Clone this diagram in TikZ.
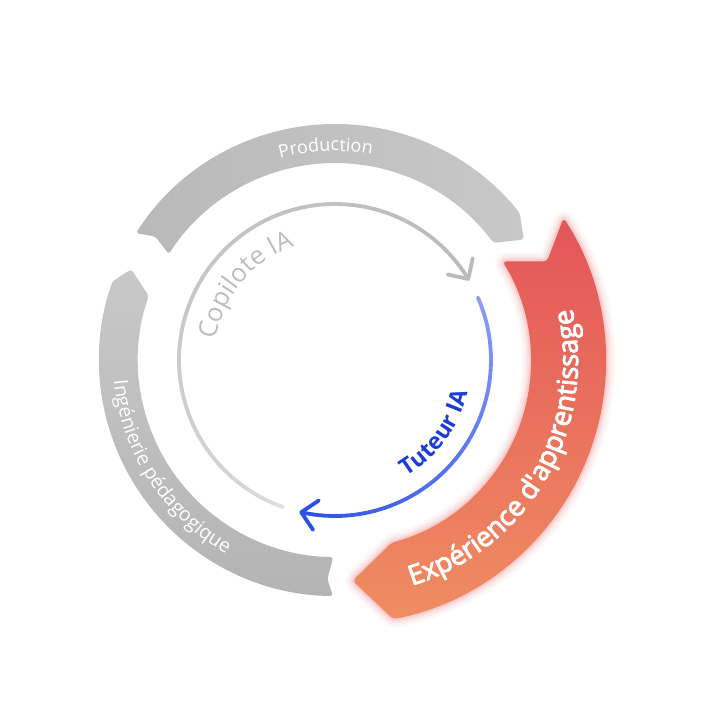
\documentclass[tikz,border=0pt]{standalone}
\usepackage{fontspec}
\setmainfont{Open Sans}
\newfontfamily\osemi[FakeBold=3]{Open Sans}
\usetikzlibrary{decorations.text}
\definecolor{prodA}{HTML}{B9B9B9}
\definecolor{prodB}{HTML}{C8C8C8}
\definecolor{ingA}{HTML}{C8C8C8}
\definecolor{ingB}{HTML}{B4B4B4}
\definecolor{redA}{HTML}{E45559}
\definecolor{redB}{HTML}{EF8D62}
\definecolor{glow}{HTML}{EA6A6A}
\definecolor{copA}{HTML}{E0E0E0}
\definecolor{copB}{HTML}{BBBBBB}
\definecolor{copT}{HTML}{BDBDBD}
\definecolor{tutA}{HTML}{8C9CF8}
\definecolor{tutB}{HTML}{2C50E6}
\definecolor{tutT}{HTML}{1C3CD6}
\newcommand\redshape[1]{\path[#1] (33:263) arc[start angle=33, end angle=-79, radius=263pt] -- (-87.5:220) -- (-75:188) arc[start angle=-75, end angle=32, radius=188pt] -- (26:227) -- cycle;}
\tikzset{
  bandtext/.style={decorate, decoration={text along path, text align=center, text color=#1}},
  ring/.style={line width=3.8pt, line cap=round, line join=round}
}
\begin{document}
\begin{tikzpicture}[x=1pt,y=1pt, line cap=round, line join=round]
\useasboundingbox[fill=white] (-335,-347) rectangle (372,360);
% Production band
\path[left color=prodA, right color=prodB, rounded corners=3pt] (147.5:236) arc[start angle=147.5, end angle=38.5, radius=236pt] -- (32.5:224) -- (36.5:197) arc[start angle=36.5, end angle=147.5, radius=197pt] -- (145.5:218) -- cycle;
% Ingenierie band
\path[top color=ingA, bottom color=ingB, rounded corners=3pt] (269.5:236) arc[start angle=269.5, end angle=160.5, radius=236pt] -- (156:223) -- (161:197) arc[start angle=161, end angle=269.5, radius=197pt] -- (268:219) -- cycle;
% Experience band
\begin{scope}[shift={(8,-1)}]
\foreach \w/\o in {18/0.05,13/0.07,8/0.1,4/0.15} {\redshape{draw=glow, line width=\w pt, draw opacity=\o, rounded corners=4pt}}
\redshape{top color=redA, bottom color=redB, rounded corners=4pt}
\path[bandtext=white, decoration={text={|\osemi\fontsize{27.5}{29}\selectfont|Expérience d'apprentissage}}] (-110:235) arc[start angle=-110, end angle=50, radius=235pt];
\end{scope}
% band texts
\path[bandtext=white, decoration={text={|\fontsize{18}{20}\selectfont|Production}}] (150:209) arc[start angle=150, end angle=35, radius=209pt];
\path[bandtext=white, decoration={text={|\fontsize{19.5}{21}\selectfont|Ingénierie pédagogique}}] (163:222) arc[start angle=163, end angle=263, radius=222pt];
% Copilote arc
\foreach \i in {0,...,59} {
  \pgfmathsetmacro\aa{250.5-(250.5-31.3)*\i/60}
  \pgfmathsetmacro\bb{250.5-(250.5-31.3)*(\i+1)/60}
  \pgfmathsetmacro\pp{100*sqrt(\i/59)}
  \draw[ring, color=copB!\pp!copA] (\aa:156) arc[start angle=\aa, end angle=\bb, radius=156pt];
}
\begin{scope}[shift={(31.3:156)}, rotate=-57.2]
\draw[ring, copB] (-15,15) -- (0,0) -- (-15,-15);
\end{scope}
% Tuteur arc
\foreach \i in {0,...,59} {
  \pgfmathsetmacro\aa{23.6-(23.6+102.5)*\i/60}
  \pgfmathsetmacro\bb{23.6-(23.6+102.5)*(\i+1)/60}
  \pgfmathsetmacro\pp{100*\i/59}
  \draw[ring, color=tutB!\pp!tutA] (\aa:156) arc[start angle=\aa, end angle=\bb, radius=156pt];
}
\begin{scope}[shift={(-102.5:156)}, rotate=-191]
\draw[ring, tutB] (-15,15) -- (0,0) -- (-15,-15);
\end{scope}
% inner texts
\path[bandtext=copT, decoration={text={|\fontsize{25.5}{27}\selectfont|Copilote IA}}] (200:121) arc[start angle=200, end angle=80, radius=121pt];
\path[bandtext=tutT, decoration={text={|\bfseries\fontsize{23}{25}\selectfont|Tuteur IA}}] (-96:137) arc[start angle=-96, end angle=24, radius=137pt];
\end{tikzpicture}
\end{document}
